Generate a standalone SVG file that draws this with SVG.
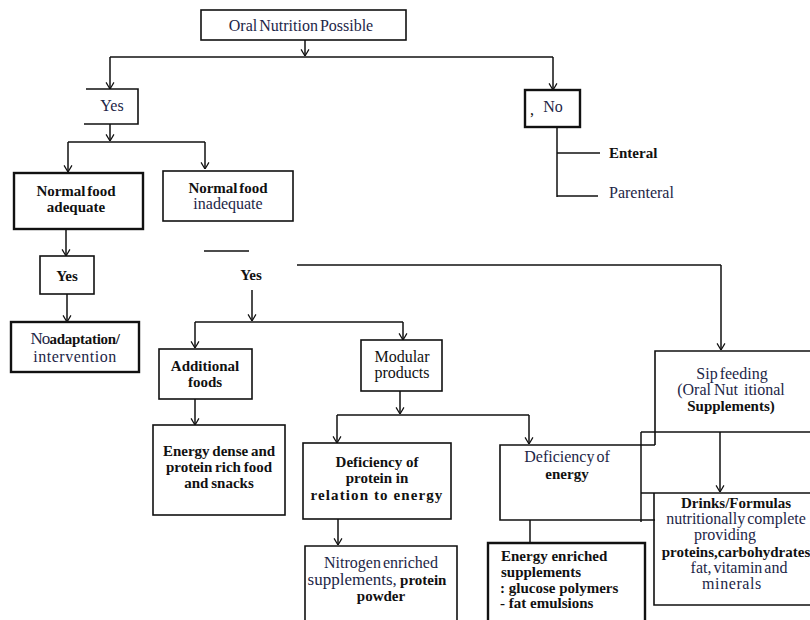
<svg xmlns="http://www.w3.org/2000/svg" width="810" height="620" viewBox="0 0 810 620" font-family="'Liberation Serif', 'DejaVu Serif', serif">
  <style>
    .box { fill: none; stroke: #111; stroke-width: 1.6; }
    .thick { stroke-width: 2.4; }
    .ln { fill: none; stroke: #111; stroke-width: 1.5; }
    .arr { marker-end: url(#ah); }
    text { font-family: 'Liberation Serif', 'DejaVu Serif', serif; font-size: 16px; fill: #111; text-anchor: middle; }
    .b { font-weight: bold; font-size: 15px; }
    .r { fill: #1d2647; }
    .l { text-anchor: start; }
  </style>
  <defs>
    <marker id="ah" viewBox="0 0 8 10" refX="7.5" refY="5" markerWidth="7" markerHeight="10" markerUnits="userSpaceOnUse" orient="auto">
      <path d="M0,0.5 L7.5,5 L0,9.5" fill="none" stroke="#111" stroke-width="1.4"/>
    </marker>
  </defs>

  <rect width="810" height="620" fill="#fff"/>

  <!-- connectors -->
  <g id="connectors">
    <path class="ln arr" d="M305,40 V56"/>
    <path class="ln" d="M110,57 H553"/>
    <path class="ln arr" d="M110,57 V89"/>
    <path class="ln arr" d="M553,57 V90"/>

    <path class="ln arr" d="M110,124 V141"/>
    <path class="ln" d="M68,142 H205"/>
    <path class="ln arr" d="M68,142 V172"/>
    <path class="ln arr" d="M205,142 V169"/>

    <path class="ln" d="M557,127 V197"/>
    <path class="ln" d="M557,153 H600"/>
    <path class="ln" d="M557,196 H598"/>

    <path class="ln arr" d="M66,229 V256"/>
    <path class="ln arr" d="M67,294 V322"/>

    <path class="ln" d="M204,251 H249"/>
    <path class="ln" d="M297,265 H721"/>
    <path class="ln arr" d="M721,265 V350"/>

    <path class="ln arr" d="M252,290 V321"/>
    <path class="ln" d="M195,322 H403"/>
    <path class="ln arr" d="M195,322 V348"/>
    <path class="ln arr" d="M403,322 V340"/>

    <path class="ln arr" d="M195,399 V425"/>

    <path class="ln arr" d="M400,391 V414"/>
    <path class="ln" d="M337,415 H529"/>
    <path class="ln arr" d="M337,415 V443"/>
    <path class="ln arr" d="M529,415 V444"/>

    <path class="ln arr" d="M338,519 V545"/>
    <path class="ln" d="M530,520 V543"/>

    <path class="ln" d="M641,432 V522"/>
    <path class="ln arr" d="M720,432 V492"/>
  </g>

  <g id="oral-nutrition">
    <rect class="box" x="201" y="10" width="205" height="30"/>
    <text x="301" y="31" class="r" font-size="17" word-spacing="-2">Oral Nutrition Possible</text>
  </g>

  <g id="yes-top">
    <path class="box" d="M86,89 H138 V124 H84"/>
    <text x="112" y="111" class="r">Yes</text>
  </g>

  <g id="no">
    <rect class="box thick" x="525" y="90" width="55" height="37"/>
    <text x="532" y="115" font-size="10">,</text>
    <text x="553" y="112" class="r">No</text>
  </g>

  <g id="enteral">
    <text x="609" y="158" class="b l">Enteral</text>
  </g>
  <g id="parenteral">
    <text x="609" y="198" class="r l" font-size="18">Parenteral</text>
  </g>

  <g id="normal-adequate">
    <rect class="box thick" x="14" y="173" width="129" height="56"/>
    <text x="76" y="196" class="b" word-spacing="-2">Normal food</text>
    <text x="76" y="212" class="b">adequate</text>
  </g>

  <g id="normal-inadequate">
    <rect class="box" x="163" y="171" width="130" height="50"/>
    <text x="228" y="193" class="b" word-spacing="-2">Normal food</text>
    <text x="228" y="209" class="r">inadequate</text>
  </g>

  <g id="yes-adequate">
    <rect class="box" x="40" y="256" width="54" height="38"/>
    <text x="67" y="281" class="b" font-size="16">Yes</text>
  </g>

  <g id="no-adaptation">
    <rect class="box thick" x="11" y="322" width="128" height="50"/>
    <text x="75" y="344"><tspan class="r" font-size="17" letter-spacing="-0.8">No</tspan><tspan class="b" font-size="16" letter-spacing="-0.3">adaptation/</tspan></text>
    <text x="75" y="362" class="r" font-size="17" letter-spacing="0.5">intervention</text>
  </g>

  <g id="yes-inadequate">
    <text x="251" y="280" class="b">Yes</text>
  </g>

  <g id="additional-foods">
    <rect class="box" x="159" y="349" width="93" height="50"/>
    <text x="205" y="371" class="b">Additional</text>
    <text x="205" y="387" class="b">foods</text>
  </g>

  <g id="modular-products">
    <rect class="box" x="361" y="340" width="81" height="51"/>
    <text x="402" y="362" font-size="15.5">Modular</text>
    <text x="402" y="378" font-size="15.5">products</text>
  </g>

  <g id="energy-dense">
    <rect class="box" x="153" y="425" width="132" height="90"/>
    <text x="219" y="456" class="b" word-spacing="-1">Energy dense and</text>
    <text x="219" y="472" class="b" word-spacing="-1">protein rich food</text>
    <text x="219" y="488" class="b" word-spacing="-1">and snacks</text>
  </g>

  <g id="deficiency-protein">
    <rect class="box" x="303" y="443" width="148" height="76"/>
    <text x="377" y="467" class="b" font-size="15.5">Deficiency of</text>
    <text x="377" y="483" class="b" font-size="15.5">protein in</text>
    <text x="377" y="500" class="b" letter-spacing="1.1">relation to energy</text>
  </g>

  <g id="deficiency-energy">
    <path class="box" d="M655,445 H500 V520 H655"/>
    <text x="567" y="462" class="r" font-size="16.5" word-spacing="-2">Deficiency of</text>
    <text x="567" y="479" class="b">energy</text>
  </g>

  <g id="sip-feeding">
    <path class="box" d="M810,351 H655 V445"/>
    <path class="box" d="M641,432 H810"/>
    <text x="732" y="379" class="r" word-spacing="-2">Sip feeding</text>
    <text x="731" y="395" class="r" font-size="17" word-spacing="-1" xml:space="preserve">(Oral Nut  itional</text>
    <text x="731" y="411" class="b" font-size="16">Supplements)</text>
  </g>

  <g id="drinks-formulas">
    <path class="box" d="M641,493 H810 M654,493 V605 H810"/>
    <text x="736" y="508" class="b" font-size="16">Drinks/Formulas</text>
    <text x="736" y="524" class="r" font-size="16.5" word-spacing="-2">nutritionally complete</text>
    <text x="725" y="540" class="r" font-size="17">providing</text>
    <text x="736" y="557" class="b">proteins,carbohydrates</text>
    <text x="739" y="573" class="r" word-spacing="-2">fat, vitamin and</text>
    <text x="732" y="589" class="r" font-size="17" letter-spacing="0.6">minerals</text>
  </g>

  <g id="nitrogen-enriched">
    <path class="box" d="M305,621 V546 H457 V621"/>
    <text x="381" y="568" class="r" font-size="17" word-spacing="-2">Nitrogen enriched</text>
    <text x="377" y="585"><tspan class="r" font-size="17" word-spacing="-1">supplements, </tspan><tspan class="b" font-size="16">protein</tspan></text>
    <text x="381" y="601" class="b" font-size="16">powder</text>
  </g>

  <g id="energy-enriched">
    <path class="box thick" d="M488,621 V543 H645 V621"/>
    <text x="501" y="561" class="b l">Energy enriched</text>
    <text x="501" y="577" class="b l">supplements</text>
    <text x="500" y="593" class="b l">: glucose polymers</text>
    <text x="500" y="608" class="b l">- fat emulsions</text>
  </g>
</svg>
